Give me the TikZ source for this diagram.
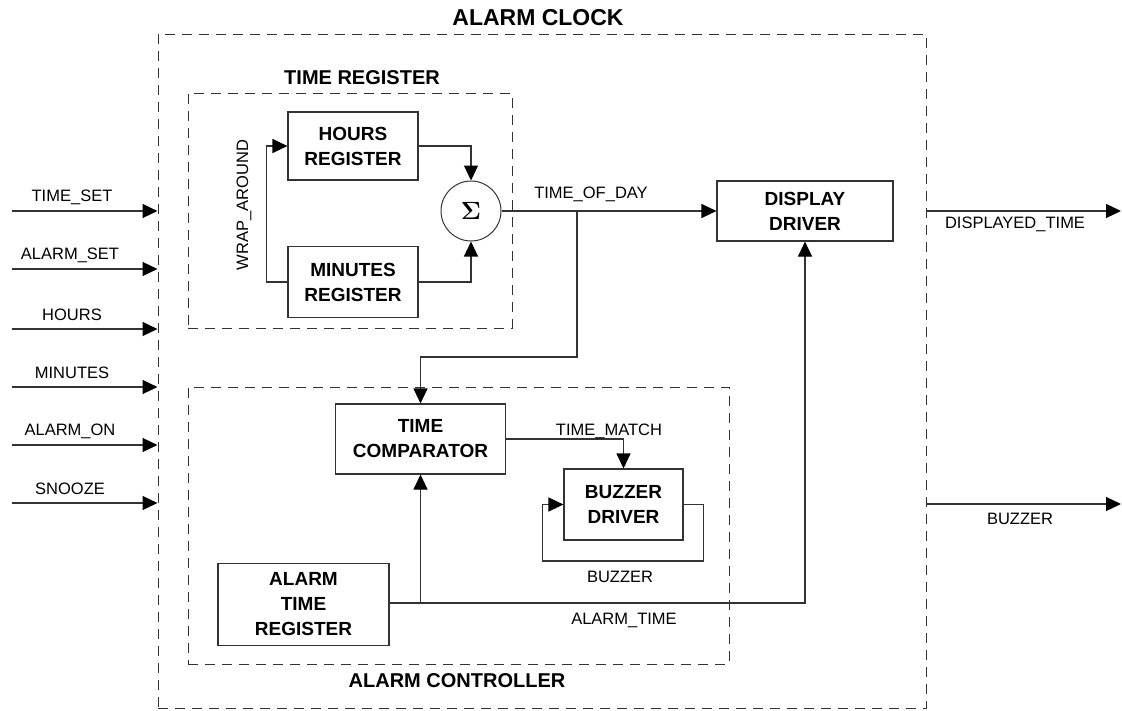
\documentclass[tikz,border=0pt]{standalone}
\usepackage{fontspec}
\setmainfont{Liberation Sans}
\usetikzlibrary{arrows.meta}
\begin{document}
\begin{tikzpicture}[x=1pt,y=-1pt,
  blk/.style={draw=black!80, line width=1.1pt, fill=white, align=center, inner sep=0pt,
    font=\fontsize{19}{25}\selectfont\bfseries},
  lbl/.style={inner sep=0pt, font=\fontsize{16.5}{20}\selectfont},
  ttl/.style={inner sep=0pt, font=\fontsize{20}{24}\selectfont\bfseries},
  grp/.style={draw=black!80, line width=1pt, dash pattern=on 10pt off 7pt, inner sep=0pt},
  wire/.style={draw=black!80, line width=1.1pt},
  arr/.style={wire, -{Triangle[length=15pt,width=14pt,color=black]}}]
\useasboundingbox (0,0) rectangle (1122,710);
% group boxes
\node[grp, minimum width=768pt, minimum height=674pt] (clock) at (542,371) {};
\node[grp, minimum width=324pt, minimum height=235pt] (treg) at (350,210.5) {};
\node[grp, minimum width=541pt, minimum height=277pt] (actl) at (458.5,525.5) {};
\node[ttl, font=\fontsize{23}{26}\selectfont\bfseries] (tclock) at (538,18) {ALARM CLOCK};
\node[ttl] (ttreg) at (362,78) {TIME REGISTER};
\node[ttl] (tactl) at (457,681) {ALARM CONTROLLER};
% blocks
\node[blk, minimum width=130pt, minimum height=68pt] (hours) at (353,146) {HOURS\\REGISTER};
\node[blk, minimum width=130pt, minimum height=71pt] (mins) at (353,282) {MINUTES\\REGISTER};
\node[circle, draw=black!80, line width=1pt, minimum size=60pt, inner sep=0pt,
  font=\boldmath\fontsize{25}{25}\selectfont] (sum) at (471,211) {$\Sigma$};
\node[blk, minimum width=176pt, minimum height=60pt] (disp) at (805,211) {DISPLAY\\DRIVER};
\node[blk, minimum width=170pt, minimum height=70pt] (comp) at (420.5,439) {TIME\\COMPARATOR};
\node[blk, minimum width=119pt, minimum height=71pt] (buzz) at (623.5,504.5) {BUZZER\\DRIVER};
\node[blk, minimum width=171pt, minimum height=82pt] (atr) at (303.5,604.5) {ALARM\\TIME\\REGISTER};
% time register wiring
\draw[arr] (hours.east) -| (sum.north);
\draw[arr] (mins.east) -| (sum.south);
\draw[arr] (mins.west) -- ++(-21,0) |- (hours.west);
\node[lbl, rotate=90] (wrap) at (244,205) {WRAP\_AROUND};
% time of day
\coordinate (todj) at (577,211);
\coordinate (todc) at (577,357);
\draw[arr] (sum.east) -- (disp.west);
\draw[arr] (todj) -- (todc) -| (comp.north);
\node[lbl] (ltod) at (591,194) {TIME\_OF\_DAY};
% comparator to buzzer
\draw[arr] (comp.east) -| (buzz.north);
\node[lbl] (lmatch) at (609,431) {TIME\_MATCH};
\draw[arr] (buzz.east) -- ++(20,0) -- ++(0,56.5) -- ++(-161,0) -- ++(0,-56.5) -- (buzz.west);
\node[lbl] (lbuzzloop) at (620,577) {BUZZER};
% alarm time
\coordinate (atj) at (420.5,603);
\coordinate (atc) at (805,603);
\draw[wire] (atr.east |- atj) -- (atj);
\draw[arr] (atj) -- (comp.south);
\draw[arr] (atj) -- (atc) -- (disp.south);
\node[lbl] (lat) at (624,620) {ALARM\_TIME};
% inputs
\foreach \nm/\yy/\lx/\txt in {i1/211/72/TIME\_SET, i2/269/70/ALARM\_SET, i3/329/72/HOURS,
    i4/387/72/MINUTES, i5/445/70/ALARM\_ON, i6/503/70/SNOOZE} {
  \coordinate (\nm) at (12,\yy);
  \draw[arr] (\nm) -- (\nm -| clock.west);
  \node[lbl] (l\nm) at (\lx,\yy-14) {\txt};
}
% outputs
\coordinate (o1) at (1121,211);
\coordinate (o2) at (1121,504);
\draw[arr] (o1 -| clock.east) -- (o1);
\draw[arr] (o2 -| clock.east) -- (o2);
\node[lbl] (lo1) at (1015,224) {DISPLAYED\_TIME};
\node[lbl] (lo2) at (1020,519) {BUZZER};
\end{tikzpicture}
\end{document}
